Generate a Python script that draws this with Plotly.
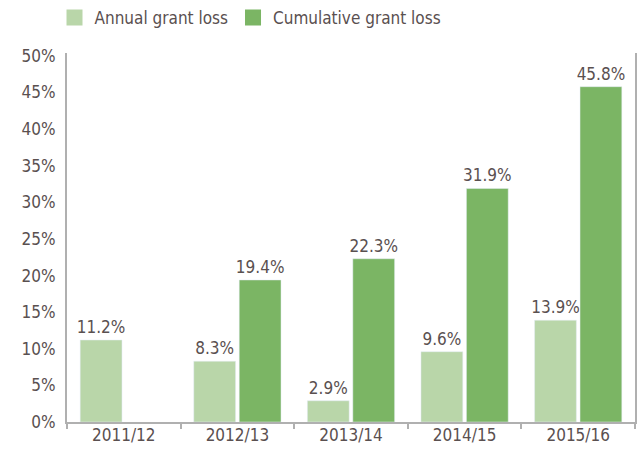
import plotly.graph_objects as go

years = ["2011/12", "2012/13", "2013/14", "2014/15", "2015/16"]
annual_loss = [11.2, 8.3, 2.9, 9.6, 13.9]
cumulative_loss = [None, 19.4, 22.3, 31.9, 45.8]
y_ticks = [0, 5, 10, 15, 20, 25, 30, 35, 40, 45, 50]

font_family = "DejaVu Sans Condensed, Liberation Sans Narrow, sans-serif"
text_color = "#5a5050"
axis_color = "#b0b0b0"
light_green = "#b9d6a9"
dark_green = "#7bb564"

fig = go.Figure()
fig.add_trace(go.Bar(
    x=years, y=annual_loss, name="Annual grant loss",
    marker_color=light_green, showlegend=False,
    text=[f"{v}%" for v in annual_loss], textposition="outside",
    constraintext="none", cliponaxis=False,
    textfont=dict(size=17, color=text_color),
))
fig.add_trace(go.Bar(
    x=years, y=cumulative_loss, name="Cumulative grant loss",
    marker_color=dark_green, showlegend=False,
    text=[f"{v}%" if v is not None else "" for v in cumulative_loss],
    textposition="outside", constraintext="none", cliponaxis=False,
    textfont=dict(size=17, color=text_color),
))

# legend entries with larger square swatches
for name, col in [("Annual grant loss", light_green), ("Cumulative grant loss", dark_green)]:
    fig.add_trace(go.Scatter(
        x=[None], y=[None], mode="markers", name=name,
        marker=dict(symbol="square", size=18, color=col),
    ))

fig.update_layout(
    width=639, height=451,
    margin=dict(l=67, r=4, t=53, b=29, autoexpand=False),
    plot_bgcolor="white", paper_bgcolor="white",
    font=dict(family=font_family, color=text_color, size=17),
    barmode="group", bargap=0.2, bargroupgap=0.08,
    showlegend=True,
    legend=dict(orientation="h", x=-0.022, xanchor="left", y=1.095, yanchor="middle",
                font=dict(size=17, color=text_color), itemwidth=30,
                traceorder="normal", tracegroupgap=0),
)
fig.update_xaxes(
    showline=True, linecolor=axis_color, linewidth=2, mirror=False,
    ticks="outside", tickson="boundaries", tickcolor=axis_color, ticklen=5,
    tickwidth=2, tickfont=dict(size=17, color=text_color), showgrid=False,
    ticklabelstandoff=-3, automargin=False,
)
fig.update_yaxes(
    range=[0, 50.4], tickvals=y_ticks, ticktext=[f"{t}%" for t in y_ticks],
    showline=True, linecolor=axis_color, linewidth=2, mirror=True,
    showgrid=False, zeroline=False, ticks="", ticklabelstandoff=6,
    tickfont=dict(size=17, color=text_color), automargin=False,
)

# drop the page's default body margin so the figure sits at the window corner
fig.write_html("out.html", config={"displayModeBar": False},
               post_script="document.body.style.margin='0';")
